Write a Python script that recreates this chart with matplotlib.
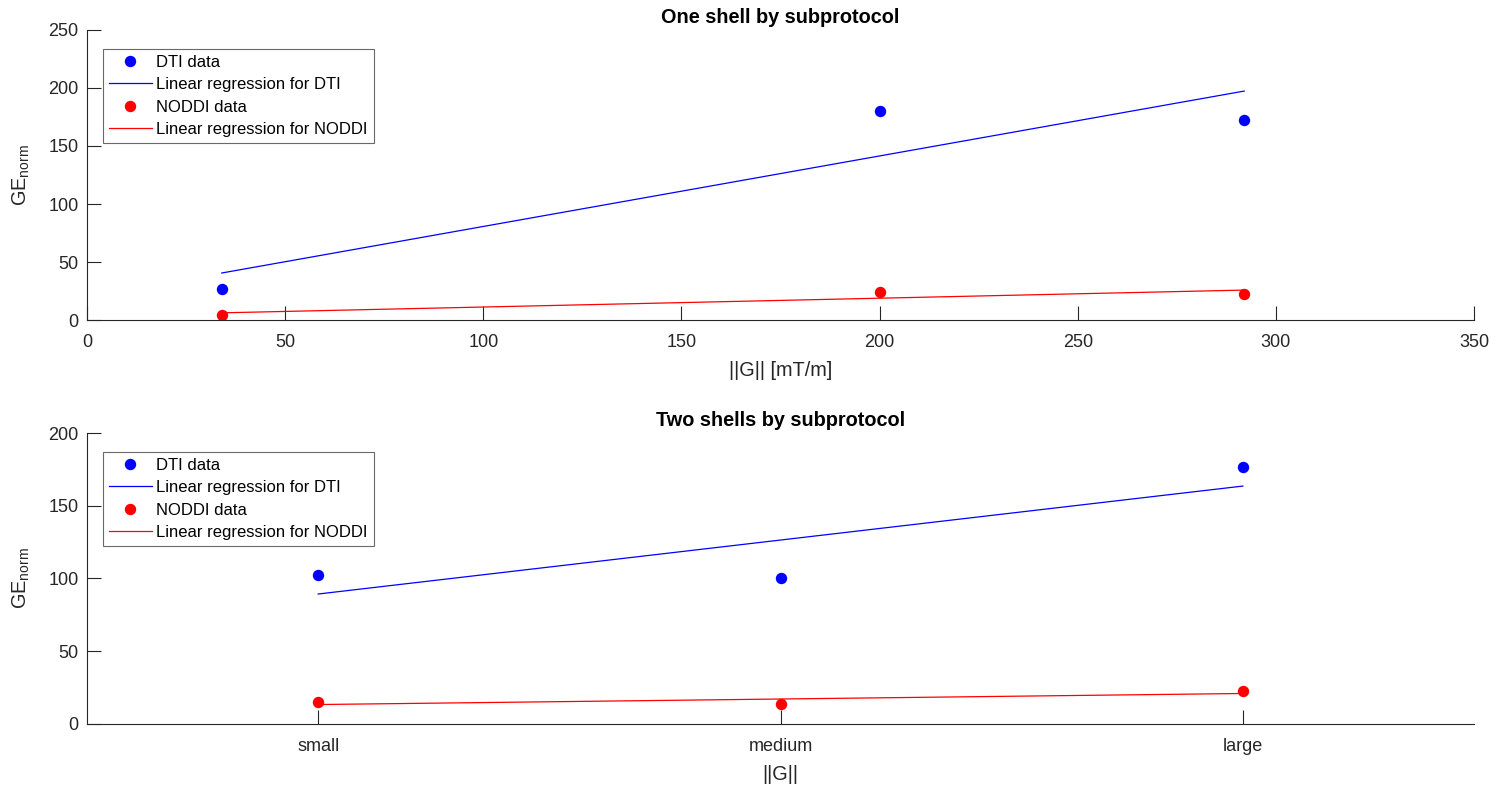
import numpy as np
import matplotlib
matplotlib.use("Agg")
import matplotlib.pyplot as plt

plt.rcParams["font.family"] = ["Liberation Sans", "DejaVu Sans"]
plt.rcParams["mathtext.fontset"] = "custom"
plt.rcParams["mathtext.rm"] = "Liberation Sans"

# one shell data
g_one = [34, 200, 292]
dti_one = [26.7, 180.2, 172.4]
noddi_one = [4.3, 24.1, 22.4]

# two shells data
sizes = ["small", "medium", "large"]
dti_two = [102.4, 100.3, 176.6]
noddi_two = [15.1, 13.7, 22.7]

AX_COLOR = "#262626"


def style_axes(ax):
    for side in ["top", "right"]:
        ax.spines[side].set_visible(False)
    for side in ["left", "bottom"]:
        ax.spines[side].set_color(AX_COLOR)
        ax.spines[side].set_linewidth(0.8)
    ax.tick_params(direction="in", length=10, width=0.8, colors=AX_COLOR,
                   labelsize=13)
    ax.tick_params(axis="x", pad=10)
    ax.tick_params(axis="y", pad=6)


def draw_panel(ax, x, dti, noddi, title):
    x = np.asarray(x, dtype=float)
    ax.plot(x, dti, "o", color="blue", markersize=7.2, label="DTI data")
    p = np.polyfit(x, dti, 1)
    ax.plot(x[[0, -1]], np.polyval(p, x[[0, -1]]), color="blue", lw=0.9,
            label="Linear regression for DTI")
    ax.plot(x, noddi, "o", color="red", markersize=7.2, label="NODDI data")
    p = np.polyfit(x, noddi, 1)
    ax.plot(x[[0, -1]], np.polyval(p, x[[0, -1]]), color="red", lw=0.9,
            label="Linear regression for NODDI")
    ax.set_title(title, fontsize=14.3, fontweight="bold", pad=5)
    ax.set_ylabel(r"GE$_{\mathrm{norm}}$", fontsize=14.3, color=AX_COLOR,
                  labelpad=12)
    leg = ax.legend(loc="upper left", bbox_to_anchor=(0.0115, 0.935),
                    borderaxespad=0, fontsize=12, frameon=True, fancybox=False,
                    handlelength=2.6, handletextpad=0.25, labelspacing=0.45,
                    borderpad=0.35)
    leg.get_frame().set_edgecolor("#444444")
    leg.get_frame().set_linewidth(0.8)
    style_axes(ax)


fig = plt.figure(figsize=(15.08, 7.89), dpi=100)
ax1 = fig.add_axes([0.0577, 0.5944, 0.9198, 0.3676])
ax2 = fig.add_axes([0.0577, 0.0824, 0.9198, 0.3688])

draw_panel(ax1, g_one, dti_one, noddi_one, "One shell by subprotocol")
ax1.set_xlim(0, 350)
ax1.set_ylim(0, 250)
ax1.set_xticks(np.arange(0, 351, 50))
ax1.set_yticks(np.arange(0, 251, 50))
ax1.set_xlabel("||G|| [mT/m]", fontsize=14.3, color=AX_COLOR, labelpad=7)

pos = np.arange(1, len(sizes) + 1)
draw_panel(ax2, pos, dti_two, noddi_two, "Two shells by subprotocol")
ax2.set_xlim(0.5, 3.5)
ax2.set_ylim(0, 200)
ax2.set_xticks(pos)
ax2.set_xticklabels(sizes)
ax2.set_yticks(np.arange(0, 201, 50))
ax2.set_xlabel("||G||", fontsize=14.3, color=AX_COLOR, labelpad=7)

fig.savefig("out.png", dpi=100)
